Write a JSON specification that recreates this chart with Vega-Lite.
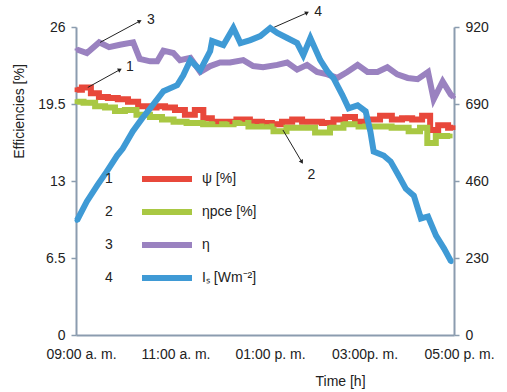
{
  "$schema": "https://vega.github.io/schema/vega-lite/v6.json",
  "width": 378,
  "height": 308,
  "autosize": "none",
  "padding": {"left": 76, "top": 27, "right": 53, "bottom": 57},
  "config": {
    "view": {"stroke": null},
    "font": "Liberation Sans",
    "axis": {
      "labelFont": "Liberation Sans", "labelFontSize": 14, "labelColor": "#222",
      "titleFont": "Liberation Sans", "titleFontSize": 14, "titleFontWeight": "normal", "titleColor": "#222",
      "domainColor": "#8b9caf", "domainWidth": 2, "tickColor": "#8b9caf", "tickWidth": 1.5, "tickSize": 5, "grid": false
    },
    "legend": {"labelFont": "Liberation Sans", "labelFontSize": 14, "labelColor": "#222", "padding": 0}
  },
  "datasets": {
    "eff": [
      {"hour": 9.02, "series": "ψ [%]", "num": "1", "eff": 20.7},
      {"hour": 9.23, "series": "ψ [%]", "num": "1", "eff": 20.9},
      {"hour": 9.40, "series": "ψ [%]", "num": "1", "eff": 20.4},
      {"hour": 9.57, "series": "ψ [%]", "num": "1", "eff": 20.1},
      {"hour": 9.78, "series": "ψ [%]", "num": "1", "eff": 20.0},
      {"hour": 9.99, "series": "ψ [%]", "num": "1", "eff": 19.9},
      {"hour": 10.21, "series": "ψ [%]", "num": "1", "eff": 19.7},
      {"hour": 10.42, "series": "ψ [%]", "num": "1", "eff": 19.3},
      {"hour": 10.63, "series": "ψ [%]", "num": "1", "eff": 19.2},
      {"hour": 10.78, "series": "ψ [%]", "num": "1", "eff": 19.3},
      {"hour": 10.99, "series": "ψ [%]", "num": "1", "eff": 19.2},
      {"hour": 11.20, "series": "ψ [%]", "num": "1", "eff": 19.0},
      {"hour": 11.41, "series": "ψ [%]", "num": "1", "eff": 18.6},
      {"hour": 11.62, "series": "ψ [%]", "num": "1", "eff": 19.0},
      {"hour": 11.77, "series": "ψ [%]", "num": "1", "eff": 18.3},
      {"hour": 11.98, "series": "ψ [%]", "num": "1", "eff": 18.0},
      {"hour": 12.26, "series": "ψ [%]", "num": "1", "eff": 18.0},
      {"hour": 12.53, "series": "ψ [%]", "num": "1", "eff": 18.2},
      {"hour": 12.83, "series": "ψ [%]", "num": "1", "eff": 18.0},
      {"hour": 13.04, "series": "ψ [%]", "num": "1", "eff": 17.9},
      {"hour": 13.25, "series": "ψ [%]", "num": "1", "eff": 17.8},
      {"hour": 13.47, "series": "ψ [%]", "num": "1", "eff": 18.0},
      {"hour": 13.68, "series": "ψ [%]", "num": "1", "eff": 18.2},
      {"hour": 13.89, "series": "ψ [%]", "num": "1", "eff": 18.0},
      {"hour": 14.10, "series": "ψ [%]", "num": "1", "eff": 18.0},
      {"hour": 14.31, "series": "ψ [%]", "num": "1", "eff": 17.9},
      {"hour": 14.59, "series": "ψ [%]", "num": "1", "eff": 18.2},
      {"hour": 14.80, "series": "ψ [%]", "num": "1", "eff": 18.4},
      {"hour": 15.01, "series": "ψ [%]", "num": "1", "eff": 18.0},
      {"hour": 15.29, "series": "ψ [%]", "num": "1", "eff": 18.2},
      {"hour": 15.58, "series": "ψ [%]", "num": "1", "eff": 18.5},
      {"hour": 15.79, "series": "ψ [%]", "num": "1", "eff": 18.2},
      {"hour": 16.01, "series": "ψ [%]", "num": "1", "eff": 18.3},
      {"hour": 16.22, "series": "ψ [%]", "num": "1", "eff": 18.2},
      {"hour": 16.43, "series": "ψ [%]", "num": "1", "eff": 18.5},
      {"hour": 16.56, "series": "ψ [%]", "num": "1", "eff": 17.3},
      {"hour": 16.77, "series": "ψ [%]", "num": "1", "eff": 17.7},
      {"hour": 16.98, "series": "ψ [%]", "num": "1", "eff": 17.5},

      {"hour": 9.02, "series": "ηpce [%]", "num": "2", "eff": 19.7},
      {"hour": 9.30, "series": "ηpce [%]", "num": "2", "eff": 19.6},
      {"hour": 9.51, "series": "ηpce [%]", "num": "2", "eff": 19.3},
      {"hour": 9.72, "series": "ηpce [%]", "num": "2", "eff": 19.2},
      {"hour": 9.93, "series": "ηpce [%]", "num": "2", "eff": 18.9},
      {"hour": 10.14, "series": "ηpce [%]", "num": "2", "eff": 19.0},
      {"hour": 10.42, "series": "ηpce [%]", "num": "2", "eff": 18.6},
      {"hour": 10.71, "series": "ηpce [%]", "num": "2", "eff": 18.4},
      {"hour": 10.93, "series": "ηpce [%]", "num": "2", "eff": 18.2},
      {"hour": 11.20, "series": "ηpce [%]", "num": "2", "eff": 18.0},
      {"hour": 11.48, "series": "ηpce [%]", "num": "2", "eff": 17.9},
      {"hour": 11.90, "series": "ηpce [%]", "num": "2", "eff": 17.8},
      {"hour": 12.20, "series": "ηpce [%]", "num": "2", "eff": 17.8},
      {"hour": 12.47, "series": "ηpce [%]", "num": "2", "eff": 17.9},
      {"hour": 12.83, "series": "ηpce [%]", "num": "2", "eff": 17.6},
      {"hour": 13.04, "series": "ηpce [%]", "num": "2", "eff": 17.6},
      {"hour": 13.32, "series": "ηpce [%]", "num": "2", "eff": 17.2},
      {"hour": 13.59, "series": "ηpce [%]", "num": "2", "eff": 17.5},
      {"hour": 13.89, "series": "ηpce [%]", "num": "2", "eff": 17.5},
      {"hour": 14.23, "series": "ηpce [%]", "num": "2", "eff": 17.1},
      {"hour": 14.52, "series": "ηpce [%]", "num": "2", "eff": 17.5},
      {"hour": 14.80, "series": "ηpce [%]", "num": "2", "eff": 17.8},
      {"hour": 15.16, "series": "ηpce [%]", "num": "2", "eff": 17.6},
      {"hour": 15.50, "series": "ηpce [%]", "num": "2", "eff": 17.6},
      {"hour": 15.86, "series": "ηpce [%]", "num": "2", "eff": 17.5},
      {"hour": 16.22, "series": "ηpce [%]", "num": "2", "eff": 17.2},
      {"hour": 16.34, "series": "ηpce [%]", "num": "2", "eff": 17.5},
      {"hour": 16.53, "series": "ηpce [%]", "num": "2", "eff": 16.2},
      {"hour": 16.70, "series": "ηpce [%]", "num": "2", "eff": 16.8},
      {"hour": 16.92, "series": "ηpce [%]", "num": "2", "eff": 16.8},

      {"hour": 9.02, "series": "η", "num": "3", "eff": 24.1},
      {"hour": 9.23, "series": "η", "num": "3", "eff": 23.8},
      {"hour": 9.49, "series": "η", "num": "3", "eff": 24.7},
      {"hour": 9.70, "series": "η", "num": "3", "eff": 24.3},
      {"hour": 9.93, "series": "η", "num": "3", "eff": 24.5},
      {"hour": 10.21, "series": "η", "num": "3", "eff": 24.7},
      {"hour": 10.35, "series": "η", "num": "3", "eff": 23.3},
      {"hour": 10.57, "series": "η", "num": "3", "eff": 23.1},
      {"hour": 10.72, "series": "η", "num": "3", "eff": 23.1},
      {"hour": 10.85, "series": "η", "num": "3", "eff": 24.0},
      {"hour": 11.06, "series": "η", "num": "3", "eff": 23.8},
      {"hour": 11.20, "series": "η", "num": "3", "eff": 23.2},
      {"hour": 11.42, "series": "η", "num": "3", "eff": 23.4},
      {"hour": 11.63, "series": "η", "num": "3", "eff": 22.2},
      {"hour": 11.84, "series": "η", "num": "3", "eff": 22.7},
      {"hour": 12.05, "series": "η", "num": "3", "eff": 23.0},
      {"hour": 12.26, "series": "η", "num": "3", "eff": 23.0},
      {"hour": 12.54, "series": "η", "num": "3", "eff": 23.2},
      {"hour": 12.75, "series": "η", "num": "3", "eff": 22.7},
      {"hour": 12.96, "series": "η", "num": "3", "eff": 22.6},
      {"hour": 13.26, "series": "η", "num": "3", "eff": 22.8},
      {"hour": 13.47, "series": "η", "num": "3", "eff": 23.0},
      {"hour": 13.68, "series": "η", "num": "3", "eff": 22.4},
      {"hour": 13.89, "series": "η", "num": "3", "eff": 22.8},
      {"hour": 14.10, "series": "η", "num": "3", "eff": 22.2},
      {"hour": 14.32, "series": "η", "num": "3", "eff": 22.0},
      {"hour": 14.53, "series": "η", "num": "3", "eff": 21.7},
      {"hour": 14.74, "series": "η", "num": "3", "eff": 22.2},
      {"hour": 14.96, "series": "η", "num": "3", "eff": 22.8},
      {"hour": 15.17, "series": "η", "num": "3", "eff": 22.2},
      {"hour": 15.38, "series": "η", "num": "3", "eff": 22.2},
      {"hour": 15.59, "series": "η", "num": "3", "eff": 22.6},
      {"hour": 15.80, "series": "η", "num": "3", "eff": 22.0},
      {"hour": 16.02, "series": "η", "num": "3", "eff": 21.7},
      {"hour": 16.23, "series": "η", "num": "3", "eff": 21.6},
      {"hour": 16.45, "series": "η", "num": "3", "eff": 22.2},
      {"hour": 16.57, "series": "η", "num": "3", "eff": 19.9},
      {"hour": 16.76, "series": "η", "num": "3", "eff": 21.4},
      {"hour": 16.93, "series": "η", "num": "3", "eff": 20.3},
      {"hour": 16.99, "series": "η", "num": "3", "eff": 20.1}
    ],
    "irr": [
      {"hour": 9.02, "series": "Iₛ [Wm⁻²]", "num": "4", "irr": 342},
      {"hour": 9.23, "series": "Iₛ [Wm⁻²]", "num": "4", "irr": 399},
      {"hour": 9.45, "series": "Iₛ [Wm⁻²]", "num": "4", "irr": 447},
      {"hour": 9.65, "series": "Iₛ [Wm⁻²]", "num": "4", "irr": 488},
      {"hour": 9.87, "series": "Iₛ [Wm⁻²]", "num": "4", "irr": 536},
      {"hour": 9.99, "series": "Iₛ [Wm⁻²]", "num": "4", "irr": 557},
      {"hour": 10.20, "series": "Iₛ [Wm⁻²]", "num": "4", "irr": 608},
      {"hour": 10.40, "series": "Iₛ [Wm⁻²]", "num": "4", "irr": 647},
      {"hour": 10.57, "series": "Iₛ [Wm⁻²]", "num": "4", "irr": 677},
      {"hour": 10.85, "series": "Iₛ [Wm⁻²]", "num": "4", "irr": 728},
      {"hour": 11.14, "series": "Iₛ [Wm⁻²]", "num": "4", "irr": 746},
      {"hour": 11.27, "series": "Iₛ [Wm⁻²]", "num": "4", "irr": 776},
      {"hour": 11.42, "series": "Iₛ [Wm⁻²]", "num": "4", "irr": 821},
      {"hour": 11.63, "series": "Iₛ [Wm⁻²]", "num": "4", "irr": 791},
      {"hour": 11.84, "series": "Iₛ [Wm⁻²]", "num": "4", "irr": 848},
      {"hour": 11.88, "series": "Iₛ [Wm⁻²]", "num": "4", "irr": 878},
      {"hour": 12.12, "series": "Iₛ [Wm⁻²]", "num": "4", "irr": 866},
      {"hour": 12.33, "series": "Iₛ [Wm⁻²]", "num": "4", "irr": 917},
      {"hour": 12.48, "series": "Iₛ [Wm⁻²]", "num": "4", "irr": 872},
      {"hour": 12.69, "series": "Iₛ [Wm⁻²]", "num": "4", "irr": 881},
      {"hour": 12.90, "series": "Iₛ [Wm⁻²]", "num": "4", "irr": 893},
      {"hour": 13.11, "series": "Iₛ [Wm⁻²]", "num": "4", "irr": 917},
      {"hour": 13.26, "series": "Iₛ [Wm⁻²]", "num": "4", "irr": 902},
      {"hour": 13.47, "series": "Iₛ [Wm⁻²]", "num": "4", "irr": 887},
      {"hour": 13.68, "series": "Iₛ [Wm⁻²]", "num": "4", "irr": 872},
      {"hour": 13.81, "series": "Iₛ [Wm⁻²]", "num": "4", "irr": 836},
      {"hour": 13.96, "series": "Iₛ [Wm⁻²]", "num": "4", "irr": 887},
      {"hour": 14.17, "series": "Iₛ [Wm⁻²]", "num": "4", "irr": 821},
      {"hour": 14.32, "series": "Iₛ [Wm⁻²]", "num": "4", "irr": 788},
      {"hour": 14.45, "series": "Iₛ [Wm⁻²]", "num": "4", "irr": 767},
      {"hour": 14.64, "series": "Iₛ [Wm⁻²]", "num": "4", "irr": 716},
      {"hour": 14.77, "series": "Iₛ [Wm⁻²]", "num": "4", "irr": 677},
      {"hour": 14.96, "series": "Iₛ [Wm⁻²]", "num": "4", "irr": 686},
      {"hour": 15.13, "series": "Iₛ [Wm⁻²]", "num": "4", "irr": 668},
      {"hour": 15.23, "series": "Iₛ [Wm⁻²]", "num": "4", "irr": 608},
      {"hour": 15.30, "series": "Iₛ [Wm⁻²]", "num": "4", "irr": 548},
      {"hour": 15.51, "series": "Iₛ [Wm⁻²]", "num": "4", "irr": 536},
      {"hour": 15.66, "series": "Iₛ [Wm⁻²]", "num": "4", "irr": 518},
      {"hour": 15.83, "series": "Iₛ [Wm⁻²]", "num": "4", "irr": 476},
      {"hour": 15.98, "series": "Iₛ [Wm⁻²]", "num": "4", "irr": 437},
      {"hour": 16.15, "series": "Iₛ [Wm⁻²]", "num": "4", "irr": 416},
      {"hour": 16.30, "series": "Iₛ [Wm⁻²]", "num": "4", "irr": 348},
      {"hour": 16.45, "series": "Iₛ [Wm⁻²]", "num": "4", "irr": 354},
      {"hour": 16.62, "series": "Iₛ [Wm⁻²]", "num": "4", "irr": 297},
      {"hour": 16.79, "series": "Iₛ [Wm⁻²]", "num": "4", "irr": 258},
      {"hour": 16.94, "series": "Iₛ [Wm⁻²]", "num": "4", "irr": 219}
    ],
    "notes": [
      {"label": "3", "dir": "up", "h0": 9.51, "e0": 24.7, "h1": 10.35, "e1": 26.5, "ht": 10.5, "et": 26.6},
      {"label": "1", "dir": "up", "h0": 9.25, "e0": 20.9, "h1": 9.93, "e1": 22.4, "ht": 10.06, "et": 22.6},
      {"label": "4", "dir": "up", "h0": 13.15, "e0": 25.9, "h1": 13.89, "e1": 27.2, "ht": 14.04, "et": 27.3},
      {"label": "2", "dir": "down", "h0": 13.38, "e0": 17.3, "h1": 13.78, "e1": 14.6, "ht": 13.9, "et": 13.5}
    ]
  },
  "layer": [
    {
      "layer": [
        {
          "data": {"name": "eff"},
          "transform": [{"filter": "datum.num != '3'"}],
          "mark": {"type": "line", "interpolate": "step"},
          "encoding": {
            "x": {"field": "hour", "type": "quantitative", "scale": {"domain": [9, 17], "nice": false},
              "axis": {"values": [9, 11, 13, 15, 17], "ticks": false, "labelPadding": 12, "labelOffset": 5, "labelFlush": false,
                "labelExpr": "datum.value==9?'09:00 a. m.':datum.value==11?'11:00 a. m.':datum.value==13?'01:00 p. m.':datum.value==15?'03:00p. m.':'05:00 p. m.'",
                "title": "Time [h]", "titleX": 264, "titleY": 39, "titleAnchor": "middle"}},
            "y": {"field": "eff", "type": "quantitative", "scale": {"domain": [0, 26], "nice": false},
              "axis": {"orient": "left", "values": [0, 6.5, 13, 19.5, 26], "format": ".1~f", "labelPadding": 6, "title": "Efficiencies [%]",
                "titleX": -57, "titleY": 84, "titleAngle": -90, "titleAlign": "center", "titleBaseline": "middle"}},
            "color": {"field": "series", "type": "nominal",
              "scale": {"domain": ["ψ [%]", "ηpce [%]", "η", "Iₛ [Wm⁻²]"], "range": ["#e8483b", "#a9c843", "#9a82c0", "#3f9ad5"]},
              "legend": {"orient": "none", "legendX": 78, "legendY": 139, "title": null, "symbolType": "M-2.5,0H2.5",
                "symbolSize": 400, "symbolStrokeWidth": 6, "labelOffset": 22, "rowPadding": 8}},
            "strokeWidth": {"field": "series", "type": "nominal",
              "scale": {"domain": ["ψ [%]", "ηpce [%]", "η", "Iₛ [Wm⁻²]"], "range": [6, 6, 3.5, 5]}, "legend": null},
            "detail": {"field": "series"}
          }
        },
        {
          "data": {"name": "eff"},
          "transform": [{"filter": "datum.num == '3'"}],
          "mark": {"type": "line", "interpolate": "linear"},
          "encoding": {
            "x": {"field": "hour", "type": "quantitative"},
            "y": {"field": "eff", "type": "quantitative"},
            "color": {"field": "series", "type": "nominal"},
            "strokeWidth": {"field": "series", "type": "nominal"}
          }
        },
        {
          "data": {"name": "eff"},
          "mark": {"type": "point", "filled": true, "size": 22, "opacity": 1},
          "encoding": {
            "x": {"field": "hour", "type": "quantitative"},
            "y": {"field": "eff", "type": "quantitative"},
            "color": {"field": "series", "type": "nominal"},
            "shape": {"field": "num", "type": "nominal",
              "scale": {"domain": ["1", "2", "3", "4"], "range": ["square", "square", "cross", "circle"]},
              "legend": {"orient": "none", "legendX": 3, "legendY": 141, "title": null, "symbolOpacity": 0,
                "symbolSize": 400, "rowPadding": 12, "labelOffset": 4}}
          }
        },
        {
          "data": {"name": "notes"},
          "mark": {"type": "rule", "color": "#222", "strokeWidth": 1},
          "encoding": {
            "x": {"field": "h0", "type": "quantitative"},
            "y": {"field": "e0", "type": "quantitative"},
            "x2": {"field": "h1"},
            "y2": {"field": "e1"}
          }
        },
        {
          "data": {"name": "notes"},
          "transform": [{"filter": "datum.dir == 'up'"}],
          "mark": {"type": "point", "shape": "triangle-up", "filled": true, "color": "#222", "size": 22, "angle": 63, "opacity": 1},
          "encoding": {
            "x": {"field": "h1", "type": "quantitative"},
            "y": {"field": "e1", "type": "quantitative"}
          }
        },
        {
          "data": {"name": "notes"},
          "transform": [{"filter": "datum.dir == 'down'"}],
          "mark": {"type": "point", "shape": "triangle-up", "filled": true, "color": "#222", "size": 22, "angle": 150, "opacity": 1},
          "encoding": {
            "x": {"field": "h1", "type": "quantitative"},
            "y": {"field": "e1", "type": "quantitative"}
          }
        },
        {
          "data": {"name": "notes"},
          "mark": {"type": "text", "fontSize": 14, "color": "#222", "align": "left", "baseline": "middle", "font": "Liberation Sans"},
          "encoding": {
            "x": {"field": "ht", "type": "quantitative"},
            "y": {"field": "et", "type": "quantitative"},
            "text": {"field": "label"}
          }
        }
      ]
    },
    {
      "data": {"name": "irr"},
      "layer": [
        {
          "mark": {"type": "line", "interpolate": "linear"},
          "encoding": {
            "x": {"field": "hour", "type": "quantitative"},
            "y": {"field": "irr", "type": "quantitative", "scale": {"domain": [0, 920], "nice": false},
              "axis": {"orient": "right", "values": [0, 230, 460, 690, 920], "labelPadding": 6, "title": null}},
            "color": {"field": "series", "type": "nominal"},
            "strokeWidth": {"field": "series", "type": "nominal"}
          }
        },
        {
          "mark": {"type": "point", "filled": true, "size": 24, "opacity": 1},
          "encoding": {
            "x": {"field": "hour", "type": "quantitative"},
            "y": {"field": "irr", "type": "quantitative"},
            "color": {"field": "series", "type": "nominal"},
            "shape": {"field": "num", "type": "nominal"}
          }
        }
      ]
    }
  ],
  "resolve": {"scale": {"y": "independent"}}
}
